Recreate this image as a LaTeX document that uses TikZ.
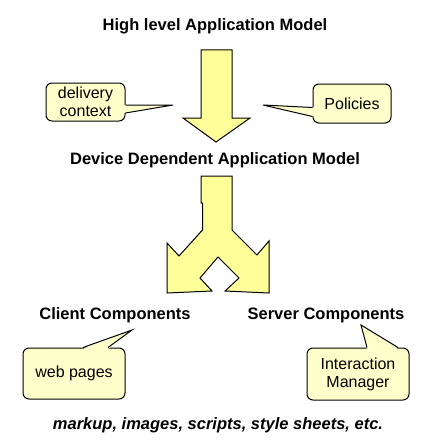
\documentclass[tikz,border=0pt]{standalone}
\usepackage{fontspec}
\setmainfont{Liberation Sans}
\usetikzlibrary{calc}
\definecolor{arrowfill}{HTML}{FFFF99}
\definecolor{bubblefill}{HTML}{FFFFCC}
\begin{document}
\begin{tikzpicture}[x=1pt,y=-1pt,
  bubble/.style={draw=black, line width=1pt, fill=bubblefill, rounded corners=6pt,
    inner sep=0pt, font=\fontsize{16}{18}\selectfont, align=center},
  heading/.style={font=\fontsize{16.5}{19}\selectfont\bfseries, anchor=base},
  bigarrow/.style={draw=black, line width=1pt, fill=arrowfill, line join=miter},
  tailfill/.style={fill=bubblefill},
  tailline/.style={draw=black, line width=1pt, line join=miter}]
\fill[white] (0,0) rectangle (430,444);
\useasboundingbox (0,0) rectangle (430,444);

% headings
\node[heading] (title) at (215,31) {High level Application Model};
\node[heading] (device) at (215,164) {Device Dependent Application Model};
\node[heading] (client) at (115,319) {Client Components};
\node[heading] (server) at (326,319) {Server Components};
\node[font=\fontsize{16.5}{19}\selectfont\bfseries\itshape, anchor=base] (footer) at (218,429)
  {markup, images, scripts, style sheets, etc.};

% first big arrow
\draw[bigarrow] (201,50) -- (232,50) -- (232,118) -- (250,118) -- (216,142)
  -- (183,118) -- (201,118) -- cycle;

% split arrow
\draw[bigarrow] (201,176) -- (232,176) -- (232,230) -- (257,255) -- (269,241)
  -- (269,293) -- (225,291) -- (239,278) -- (218,257) -- (200,278) -- (212,291)
  -- (167,293) -- (167,243) -- (179,256) -- (202.5,230) -- (202.5,203)
  -- (201,203) -- cycle;

% delivery context bubble
\node[bubble, minimum width=79pt, minimum height=38pt] (dc) at (85.5,102) {delivery\\context};
\coordinate (dctip) at (173,105);
\fill[tailfill] ($(dc.east)+(-1.5,3)$) -- (dctip) -- ($(dc.east)+(-1.5,11)$) -- cycle;
\draw[tailline] ($(dc.east)+(0,3)$) -- (dctip) -- ($(dc.east)+(0,11)$);

% policies bubble
\node[bubble, minimum width=78pt, minimum height=39pt] (pol) at (352,103.5) {Policies};
\coordinate (poltip) at (263,105);
\fill[tailfill] ($(pol.west)+(1.5,4)$) -- (poltip) -- ($(pol.west)+(1.5,13)$) -- cycle;
\draw[tailline] ($(pol.west)+(0,4)$) -- (poltip) -- ($(pol.west)+(0,13)$);

% web pages bubble
\node[bubble, minimum width=102pt, minimum height=51pt] (web) at (74,373.5) {web pages};
\coordinate (webtip) at (132,330);
\fill[tailfill] ($(web.north)+(9,1.5)$) -- (webtip) -- ($(web.north)+(34,1.5)$) -- cycle;
\draw[tailline] ($(web.north)+(9,0)$) -- (webtip) -- ($(web.north)+(34,0)$);

% interaction manager bubble
\node[bubble, minimum width=102pt, minimum height=52pt] (im) at (358,374) {Interaction\\Manager};
\coordinate (imtip) at (361,325);
\fill[tailfill] ($(im.north)+(9,1.5)$) -- (imtip) -- ($(im.north)+(40,1.5)$) -- cycle;
\draw[tailline] ($(im.north)+(9,0)$) -- (imtip) -- ($(im.north)+(40,0)$);
\end{tikzpicture}
\end{document}
